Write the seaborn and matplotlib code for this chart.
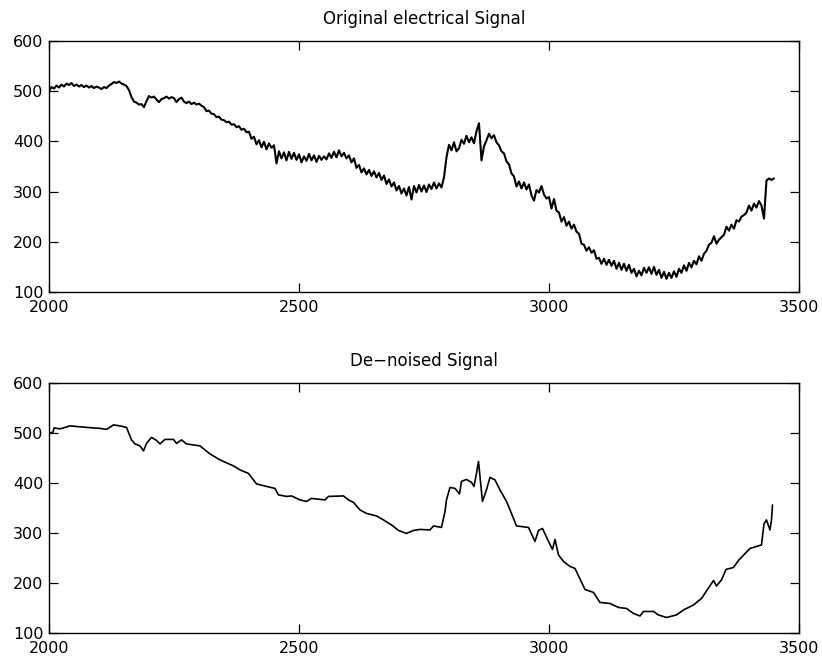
import numpy as np
import matplotlib
matplotlib.use("Agg")
import matplotlib.pyplot as plt
import seaborn as sns

# Original (noisy) electrical signal, one value every 5 samples from 2000 to 3450
noisy_start, noisy_step = 2000, 5
noisy_values = [
    500, 508, 505, 511, 507, 513, 509, 515, 512, 516,
    510, 513, 509, 512, 508, 511, 507, 510, 506, 509,
    507, 504, 508, 506, 511, 514, 518, 516, 519, 515,
    513, 510, 502, 488, 479, 477, 473, 474, 468, 480,
    490, 487, 489, 483, 478, 484, 486, 489, 485, 488,
    486, 478, 484, 487, 479, 476, 479, 474, 477, 473,
    475, 471, 468, 460, 461, 455, 454, 448, 449, 443,
    442, 438, 439, 433, 434, 428, 430, 423, 425, 418,
    419, 405, 409, 394, 402, 388, 399, 384, 396, 387,
    392, 356, 380, 366, 378, 362, 379, 365, 377, 363,
    374, 358, 370, 361, 375, 362, 372, 359, 371, 363,
    370, 364, 376, 367, 379, 368, 382, 370, 377, 366,
    372, 358, 366, 347, 353, 338, 346, 334, 343, 331,
    340, 328, 337, 323, 332, 315, 324, 310, 318, 302,
    311, 296, 306, 292, 309, 284, 311, 298, 313, 300,
    312, 299, 314, 305, 318, 306, 316, 308, 328, 368,
    393, 382, 398, 380, 386, 403, 395, 411, 398, 408,
    396, 420, 436, 362, 390, 402, 415, 406, 412, 398,
    392, 380, 376, 360, 354, 336, 330, 310, 320, 306,
    318, 304, 314, 292, 282, 303, 298, 311, 294, 286,
    289, 266, 285, 262, 258, 240, 249, 232, 240, 226,
    234, 220, 216, 196, 194, 182, 189, 178, 183, 166,
    168, 156, 166, 154, 164, 152, 162, 146, 158, 144,
    156, 142, 154, 138, 146, 131, 142, 133, 148, 138,
    149, 136, 150, 134, 144, 128, 140, 126, 138, 128,
    141, 130, 146, 138, 153, 142, 158, 149, 162, 155,
    171, 162, 176, 182, 194, 198, 211, 196, 204, 209,
    214, 230, 222, 234, 226, 243, 240, 250, 253, 258,
    272, 262, 276, 268, 281, 272, 246, 322, 326, 323,
    326,
]

# De-noised signal, breakpoints
denoised_x = [
    2000, 2008, 2010, 2022, 2042, 2075, 2102, 2115, 2129, 2142,
    2155, 2165, 2172, 2182, 2189, 2195, 2205, 2215, 2222, 2232,
    2249, 2255, 2265, 2275, 2302, 2322, 2342, 2369, 2382, 2399,
    2415, 2435, 2452, 2459, 2475, 2485, 2502, 2515, 2525, 2552,
    2559, 2589, 2599, 2609, 2622, 2635, 2655, 2669, 2685, 2699,
    2715, 2729, 2742, 2762, 2769, 2785, 2792, 2795, 2802, 2812,
    2821, 2825, 2835, 2845, 2850, 2855, 2859, 2862, 2867, 2874,
    2882, 2892, 2902, 2915, 2925, 2935, 2959, 2972, 2979, 2987,
    2999, 3007, 3012, 3019, 3029, 3042, 3052, 3072, 3089, 3102,
    3122, 3139, 3155, 3169, 3182, 3189, 3209, 3219, 3235, 3255,
    3269, 3289, 3305, 3329, 3335, 3345, 3354, 3369, 3379, 3402,
    3425, 3430, 3435, 3442, 3445, 3447,
]
denoised_y = [
    500, 501, 510, 508, 514, 511, 509, 507, 516, 514,
    511, 486, 478, 474, 464, 479, 491, 485, 478, 487,
    487, 479, 486, 478, 474, 458, 446, 434, 426, 419,
    398, 393, 389, 376, 373, 374, 366, 363, 369, 366,
    373, 374, 366, 361, 346, 339, 334, 326, 316, 305,
    299, 305, 307, 306, 314, 311, 343, 366, 391, 389,
    378, 403, 407, 401, 393, 419, 443, 413, 363, 383,
    411, 406, 386, 363, 339, 314, 311, 283, 305, 309,
    283, 267, 287, 256, 243, 233, 229, 187, 181, 161,
    159, 151, 149, 139, 134, 143, 143, 136, 131, 136,
    146, 156, 169, 205, 194, 206, 227, 231, 245, 269,
    276, 318, 326, 306, 326, 356,
]

x_ticks = [2000, 2500, 3000, 3500]
y_ticks = [100, 200, 300, 400, 500, 600]
titles = ["Original electrical Signal", "De\u2212noised Signal"]

sns.set_style("ticks")
plt.rcParams["font.family"] = ["DejaVu Sans"]

noisy_x = noisy_start + noisy_step * np.arange(len(noisy_values))

fig = plt.figure(figsize=(8.22, 6.59), dpi=100)
ax_top = fig.add_axes([0.0596, 0.557, 0.9124, 0.381])
ax_bot = fig.add_axes([0.0596, 0.0395, 0.9124, 0.3795])

sns.lineplot(x=noisy_x, y=noisy_values, ax=ax_top, color="black",
             linewidth=1.5, sort=False, estimator=None)
sns.lineplot(x=denoised_x, y=denoised_y, ax=ax_bot, color="black",
             linewidth=1.2, sort=False, estimator=None)

for ax, title in zip([ax_top, ax_bot], titles):
    ax.set_xlim(2000, 3500)
    ax.set_ylim(100, 600)
    ax.set_xticks(x_ticks)
    ax.set_yticks(y_ticks)
    ax.set_xlabel("")
    ax.set_ylabel("")
    ax.set_title(title, fontsize=12, pad=12, color="black")
    for side in ["top", "right", "bottom", "left"]:
        ax.spines[side].set_visible(True)
        ax.spines[side].set_color("black")
        ax.spines[side].set_linewidth(1.0)
    ax.tick_params(axis="both", which="both", direction="in", length=6.5,
                   width=0.9, color="black", labelsize=11.5, labelcolor="black",
                   top=True, right=True)
    ax.tick_params(axis="x", pad=6)
    ax.tick_params(axis="y", pad=4)

plt.savefig("out.png", dpi=100)
plt.close(fig)
